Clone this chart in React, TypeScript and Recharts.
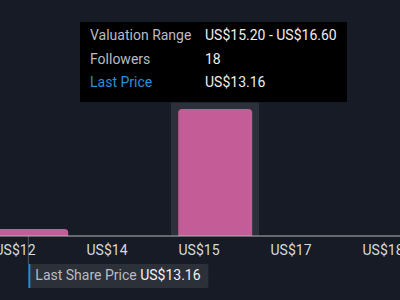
import { BarChart, Bar, XAxis, YAxis, Tooltip, ReferenceLine } from 'recharts';

const binStarts = [12.4, 13.8, 15.2, 16.6, 18.0];
const binEnds = [13.8, 15.2, 16.6, 18.0, 19.4];
const tickLabels = ['US$12', 'US$14', 'US$15', 'US$17', 'US$18'];
const followers = [1, 0, 18, 0, 0];
const lastPrice = 13.16;
const priceDomain = [12.5, 19.5];
const activeBin = 2;

const data = tickLabels.map((label, i) => ({
    label,
    start: binStarts[i],
    end: binEnds[i],
    followers: followers[i],
}));

const fmt = (v: number) => `US$${v.toFixed(2)}`;

function BandCursor(props: any) {
    const { x, y, width, height } = props;
    return <rect x={x + 2} y={y} width={width - 4} height={height} fill="#2b303a" />;
}

function TooltipBox({ payload }: any) {
    if (!payload || !payload.length) return null;
    const row = payload[0].payload;
    const cell = { lineHeight: '23.5px', whiteSpace: 'nowrap' as const };
    return (
        <div
            style={{
                background: '#000',
                padding: '2px 10px 7px 10px',
                display: 'grid',
                gridTemplateColumns: '115px auto',
                fontSize: 14,
                fontFamily: 'Roboto',
            }}
        >
            <span style={{ ...cell, color: '#b9bcc2' }}>Valuation Range</span>
            <span style={{ ...cell, color: '#eeeeee' }}>{fmt(row.start)} - {fmt(row.end)}</span>
            <span style={{ ...cell, color: '#b9bcc2' }}>Followers</span>
            <span style={{ ...cell, color: '#eeeeee' }}>{row.followers}</span>
            <span style={{ ...cell, color: '#2b8fd8' }}>Last Price</span>
            <span style={{ ...cell, color: '#eeeeee' }}>{fmt(lastPrice)}</span>
        </div>
    );
}

// grey stem under the axis plus the "Last Share Price" tag
function LastPriceMarker(props: any) {
    const { x1, y1, y2 } = props;
    const bottom = Math.max(y1, y2);
    return (
        <g>
            <line x1={x1} y1={bottom} x2={x1} y2={bottom + 28} stroke="#555a62" strokeWidth={1} />
            <rect x={x1} y={bottom + 28} width={180} height={24} rx={2} fill="#2b3039" />
            <rect x={x1} y={bottom + 28} width={2} height={24} fill="#1e8ddb" />
            <text x={x1 + 7} y={bottom + 44} fontSize={14} fontFamily="Roboto">
                <tspan fill="#b9bcc2">Last Share Price </tspan>
                <tspan fill="#f2f2f2">{fmt(lastPrice)}</tspan>
            </text>
        </g>
    );
}

export default function App() {
    return (
        <div
            style={{
                position: 'absolute',
                left: 0,
                top: 0,
                width: 400,
                height: 300,
                overflow: 'hidden',
                background: '#161b25',
                fontFamily: 'Roboto',
            }}
        >
            <div style={{ position: 'absolute', left: -15, top: 0 }}>
                <BarChart
                    width={460}
                    height={300}
                    data={data}
                    margin={{ top: 102, right: 0, bottom: 34, left: 0 }}
                    barCategoryGap="10%"
                >
                    <XAxis
                        dataKey="label"
                        height={30}
                        axisLine={{ stroke: '#b4b6ba', strokeWidth: 1 }}
                        tickLine={false}
                        interval={0}
                        tick={{ fontSize: 14, fill: '#d8dade', dx: -16, dy: 1, fontFamily: 'Roboto' }}
                    />
                    <XAxis
                        xAxisId="price"
                        dataKey="start"
                        type="number"
                        domain={priceDomain}
                        hide
                        allowDataOverflow
                    />
                    <YAxis hide domain={[0, 19]} />
                    <Tooltip
                        active
                        defaultIndex={activeBin}
                        cursor={<BandCursor />}
                        position={{ x: 95, y: 22 }}
                        isAnimationActive={false}
                        wrapperStyle={{ outline: 'none' }}
                        content={<TooltipBox />}
                    />
                    <Bar
                        dataKey="followers"
                        fill="#c45c97"
                        radius={[4, 4, 0, 0]}
                        isAnimationActive={false}
                        activeBar={false}
                    />
                    <ReferenceLine
                        xAxisId="price"
                        x={lastPrice}
                        ifOverflow="visible"
                        shape={(p: any) => <LastPriceMarker {...p} />}
                    />
                </BarChart>
            </div>
        </div>
    );
}
